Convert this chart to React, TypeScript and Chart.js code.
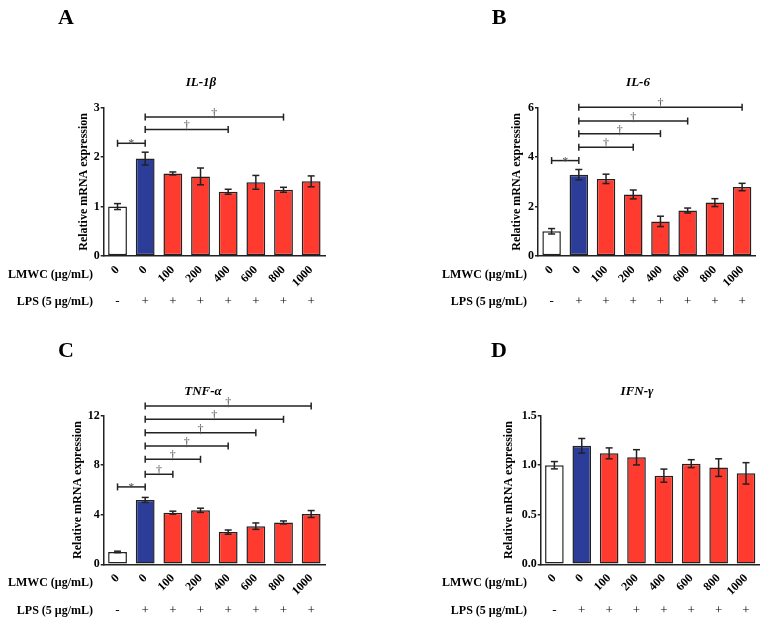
import React, { useEffect, useRef } from 'react';
import { Chart, registerables } from 'chart.js';

Chart.register(...registerables);

// ---------- data ----------
const categories = ['0', '0', '100', '200', '400', '600', '800', '1000'];
const lpsSigns = ['-', '+', '+', '+', '+', '+', '+', '+'];

const il1bValues = [1.0, 1.97, 1.67, 1.61, 1.3, 1.49, 1.34, 1.51];
const il1bErrors = [0.06, 0.13, 0.03, 0.17, 0.05, 0.14, 0.05, 0.11];
// [fromIndex, toIndex, yValue, label]
const il1bBrackets: [number, number, number, string][] = [
  [0, 1, 2.28, '*'],
  [1, 4, 2.56, '†'],
  [1, 6, 2.81, '†'],
];

const il6Values = [1.0, 3.29, 3.12, 2.49, 1.4, 1.84, 2.16, 2.79];
const il6Errors = [0.11, 0.21, 0.19, 0.18, 0.21, 0.1, 0.16, 0.15];
const il6Brackets: [number, number, number, string][] = [
  [0, 1, 3.86, '*'],
  [1, 3, 4.4, '†'],
  [1, 4, 4.95, '†'],
  [1, 5, 5.46, '†'],
  [1, 7, 6.02, '†'],
];

const tnfValues = [1.0, 5.2, 4.17, 4.36, 2.6, 3.08, 3.38, 4.06];
const tnfErrors = [0.06, 0.2, 0.12, 0.17, 0.17, 0.26, 0.12, 0.28];
const tnfBrackets: [number, number, number, string][] = [
  [0, 1, 6.25, '*'],
  [1, 2, 7.27, '†'],
  [1, 3, 8.48, '†'],
  [1, 4, 9.55, '†'],
  [1, 5, 10.63, '†'],
  [1, 6, 11.71, '†'],
  [1, 7, 12.78, '†'],
];

const ifnValues = [1.0, 1.196, 1.12, 1.08, 0.895, 1.016, 0.976, 0.918];
const ifnErrors = [0.037, 0.074, 0.055, 0.077, 0.066, 0.04, 0.089, 0.108];
const ifnBrackets: [number, number, number, string][] = [];

// ---------- styles ----------
const FONT = "'Liberation Serif', 'Times New Roman', serif";
const INK = '#222222';
const BAR_COLORS = ['#ffffff', '#2b3d98', '#ff3b30', '#ff3b30', '#ff3b30', '#ff3b30', '#ff3b30', '#ff3b30'];
const W = 384;
const H = 312;

type Geo = {
  left: number; right: number; top: number; bottom: number;
  titleX: number; titleY: number; yTitleX: number;
  letterX: number; letterY: number; rowRight: number; lmwcY: number; lpsY: number;
};

type Panel = {
  letter: string; title: string; values: number[]; errors: number[];
  brackets: [number, number, number, string][]; yMax: number; yStep: number; decimals: number;
  geo: Geo; ox: number; oy: number;
};

const panels: Panel[] = [
  {
    letter: 'A', title: 'IL-1β', values: il1bValues, errors: il1bErrors, brackets: il1bBrackets,
    yMax: 3, yStep: 1, decimals: 0, ox: 0, oy: 0,
    geo: { left: 103.7, right: 325, top: 107.7, bottom: 256, titleX: 201, titleY: 83, yTitleX: 84,
      letterX: 66, letterY: 18, rowRight: 93, lmwcY: 275, lpsY: 302 },
  },
  {
    letter: 'B', title: 'IL-6', values: il6Values, errors: il6Errors, brackets: il6Brackets,
    yMax: 6, yStep: 2, decimals: 0, ox: 384, oy: 0,
    geo: { left: 154, right: 371.7, top: 107.7, bottom: 256, titleX: 254, titleY: 83, yTitleX: 132.7,
      letterX: 115, letterY: 18, rowRight: 143, lmwcY: 275, lpsY: 302 },
  },
  {
    letter: 'C', title: 'TNF-α', values: tnfValues, errors: tnfErrors, brackets: tnfBrackets,
    yMax: 12, yStep: 4, decimals: 0, ox: 0, oy: 312,
    geo: { left: 103.7, right: 325, top: 103.7, bottom: 252.3, titleX: 203, titleY: 80, yTitleX: 78.3,
      letterX: 66, letterY: 39, rowRight: 93, lmwcY: 271, lpsY: 299 },
  },
  {
    letter: 'D', title: 'IFN-γ', values: ifnValues, errors: ifnErrors, brackets: ifnBrackets,
    yMax: 1.5, yStep: 0.5, decimals: 1, ox: 384, oy: 312,
    geo: { left: 156.7, right: 375.7, top: 103.7, bottom: 252.3, titleX: 253, titleY: 80, yTitleX: 125,
      letterX: 115, letterY: 39, rowRight: 143, lmwcY: 271, lpsY: 299 },
  },
];

function makeOverlay(p: Panel) {
  return {
    id: 'overlay' + p.letter,
    afterDatasetsDraw(chart: any) {
      const ctx = chart.ctx as CanvasRenderingContext2D;
      const xs = chart.scales.x;
      const ys = chart.scales.y;
      ctx.save();
      ctx.strokeStyle = INK;
      ctx.lineWidth = 1.5;
      const line = (x1: number, y1: number, x2: number, y2: number) => {
        ctx.beginPath();
        ctx.moveTo(x1, y1);
        ctx.lineTo(x2, y2);
        ctx.stroke();
      };
      // error bars
      p.values.forEach((v, i) => {
        const e = p.errors[i];
        const x = xs.getPixelForValue(i);
        const y1 = ys.getPixelForValue(v - e);
        const y2 = ys.getPixelForValue(v + e);
        line(x, y1, x, y2);
        line(x - 3.5, y1, x + 3.5, y1);
        line(x - 3.5, y2, x + 3.5, y2);
      });
      // significance brackets
      p.brackets.forEach(([a, b, val, lab]) => {
        const x1 = xs.getPixelForValue(a);
        const x2 = xs.getPixelForValue(b);
        const y = ys.getPixelForValue(val);
        ctx.strokeStyle = INK;
        line(x1, y, x2, y);
        line(x1, y - 3.5, x1, y + 3.5);
        line(x2, y - 3.5, x2, y + 3.5);
        ctx.fillStyle = '#555555';
        ctx.font = `12px ${FONT}`;
        ctx.textAlign = 'center';
        ctx.textBaseline = 'alphabetic';
        ctx.fillText(lab, (x1 + x2) / 2, lab === '*' ? y + 4 : y);
      });
      ctx.restore();
    },
    afterDraw(chart: any) {
      const ctx = chart.ctx as CanvasRenderingContext2D;
      const xs = chart.scales.x;
      const g = p.geo;
      ctx.save();
      ctx.fillStyle = '#000000';
      ctx.textBaseline = 'middle';
      ctx.textAlign = 'center';
      ctx.font = `bold 22px ${FONT}`;
      ctx.fillText(p.letter, g.letterX, g.letterY);
      ctx.font = `italic bold 13px ${FONT}`;
      ctx.fillText(p.title, g.titleX, g.titleY);
      ctx.font = `bold 12px ${FONT}`;
      ctx.textAlign = 'right';
      ctx.fillText('LMWC (μg/mL)', g.rowRight, g.lmwcY);
      ctx.fillText('LPS (5 μg/mL)', g.rowRight, g.lpsY);
      ctx.textAlign = 'center';
      ctx.font = `13px ${FONT}`;
      lpsSigns.forEach((s, i) => {
        ctx.fillText(s, xs.getPixelForValue(i), g.lpsY);
      });
      ctx.restore();
    },
  };
}

function PanelChart({ p }: { p: Panel }) {
  const ref = useRef<HTMLCanvasElement | null>(null);
  useEffect(() => {
    if (!ref.current) return;
    const g = p.geo;
    const padLeft = g.yTitleX - 7.2;
    const chart = new Chart(ref.current, {
      type: 'bar',
      data: {
        labels: categories,
        datasets: [
          {
            data: p.values,
            backgroundColor: BAR_COLORS,
            borderColor: INK,
            borderWidth: 1.5,
            borderSkipped: false,
            barPercentage: 0.68,
            categoryPercentage: 1.0,
          },
        ],
      },
      options: {
        responsive: false,
        animation: false,
        devicePixelRatio: 1,
        layout: { padding: { left: padLeft, right: W - g.right, top: g.top, bottom: 0 } },
        plugins: { legend: { display: false }, tooltip: { enabled: false }, title: { display: false } },
        scales: {
          x: {
            type: 'category',
            offset: true,
            grid: { display: false, drawTicks: false },
            border: { display: true, color: INK, width: 1.5 },
            ticks: {
              color: '#000',
              autoSkip: false,
              minRotation: 45,
              maxRotation: 45,
              padding: 7,
              font: { family: FONT, size: 12, weight: 'bold' },
            },
            afterFit: (s: any) => { s.height = H - g.bottom; },
          },
          y: {
            min: 0,
            max: p.yMax,
            ticks: {
              stepSize: p.yStep,
              color: '#000',
              padding: 1,
              font: { family: FONT, size: 12, weight: 'bold' },
              callback: (v: any) => Number(v).toFixed(p.decimals),
            },
            grid: { drawOnChartArea: false, drawTicks: true, tickLength: 3, color: INK, lineWidth: 1.5 },
            border: { display: true, color: INK, width: 1.5 },
            title: {
              display: true,
              text: 'Relative mRNA expression',
              color: '#000',
              padding: 0,
              font: { family: FONT, size: 12, weight: 'bold' },
            },
            afterFit: (s: any) => { s.width = g.left - padLeft; },
          },
        },
      } as any,
      plugins: [makeOverlay(p)],
    });
    return () => chart.destroy();
  }, [p]);
  return (
    <div style={{ position: 'absolute', left: p.ox, top: p.oy, width: W, height: H }}>
      <canvas ref={ref} width={W} height={H} style={{ width: W, height: H, display: 'block' }} />
    </div>
  );
}

export default function App() {
  return (
    <div style={{ position: 'absolute', left: 0, top: 0, width: 768, height: 624, background: '#fff' }}>
      {panels.map((p) => (
        <PanelChart key={p.letter} p={p} />
      ))}
    </div>
  );
}
